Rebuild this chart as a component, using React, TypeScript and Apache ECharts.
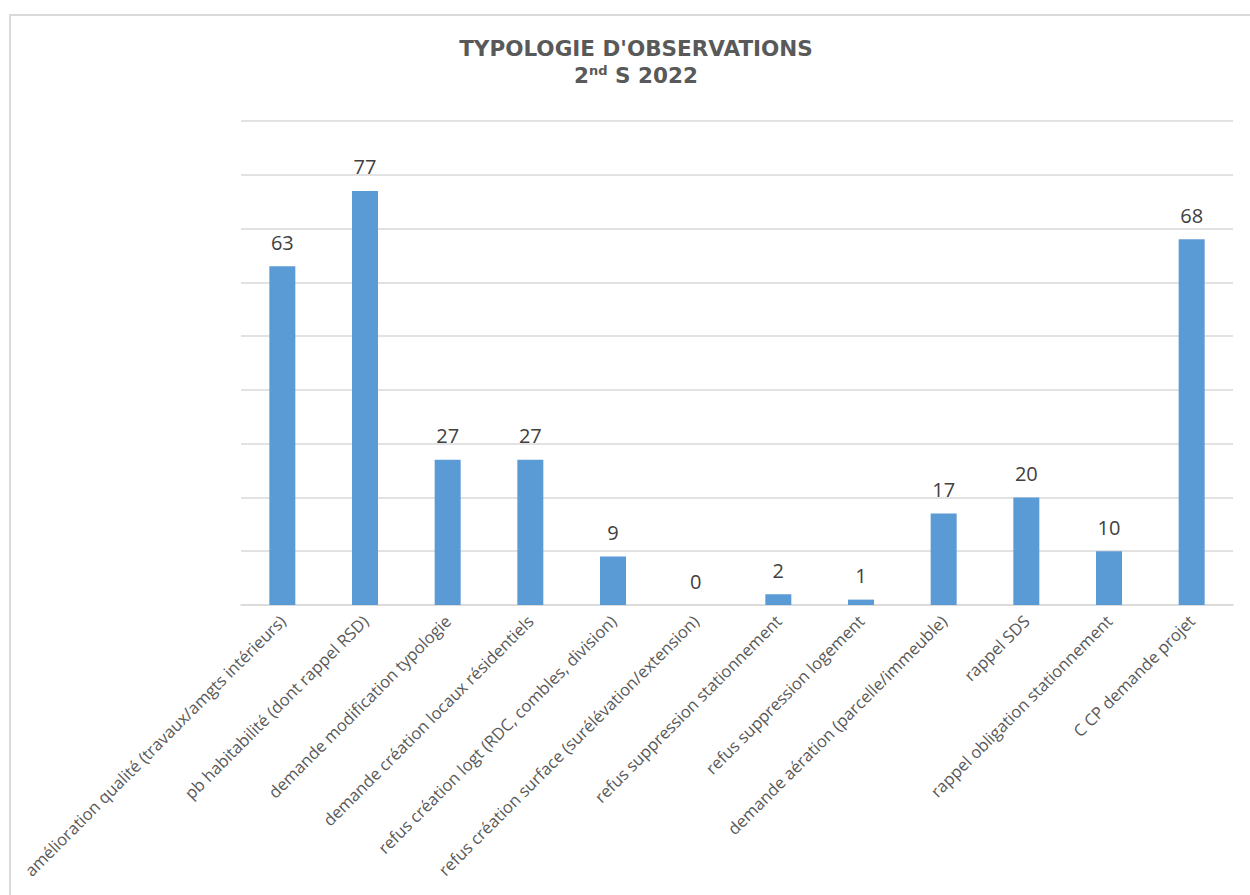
import React, { useEffect, useRef } from "react";
import * as echarts from "echarts";

const categories: string[] = [
  "amélioration qualité (travaux/amgts intérieurs)",
  "pb habitabilité (dont rappel RSD)",
  "demande modification typologie",
  "demande création locaux résidentiels",
  "refus création logt (RDC, combles, division)",
  "refus création surface (surélévation/extension)",
  "refus suppression stationnement",
  "refus suppression logement",
  "demande aération (parcelle/immeuble)",
  "rappel SDS",
  "rappel obligation stationnement",
  "C CP demande projet",
];

const counts: number[] = [63, 77, 27, 27, 9, 0, 2, 1, 17, 20, 10, 68];

const titleLine1 = "TYPOLOGIE D'OBSERVATIONS";
const titleOrdinal = "2";
const titleSuffix = "nd";
const titleRest = " S 2022";

export default function App() {
  const ref = useRef<HTMLDivElement>(null);

  useEffect(() => {
    if (!ref.current) return;
    const chart = echarts.init(ref.current, null, { renderer: "svg" });
    const labelFont = "Open Sans, 'Noto Sans', sans-serif";
    const titleFont = "'DejaVu Sans', sans-serif";
    chart.setOption({
      animation: false,
      backgroundColor: "#ffffff",
      graphic: [
        {
          type: "rect",
          shape: { x: 10, y: 15, width: 1280, height: 920 },
          style: { fill: "none", stroke: "#d9d9d9", lineWidth: 2 },
          silent: true,
        },
        {
          type: "text",
          x: 636,
          y: 48,
          style: {
            text: titleLine1,
            fill: "#595959",
            font: `bold 21.5px ${titleFont}`,
            align: "center",
            verticalAlign: "middle",
          },
        },
        {
          type: "text",
          x: 636,
          y: 75,
          style: {
            text: `{n|${titleOrdinal}}{s|${titleSuffix}}{n|${titleRest}}`,
            align: "center",
            verticalAlign: "middle",
            rich: {
              n: {
                fill: "#595959",
                font: `bold 21.5px ${titleFont}`,
              },
              s: {
                fill: "#595959",
                font: `bold 13px ${titleFont}`,
                verticalAlign: "top",
                padding: [0, 0, 9, 0],
              },
            },
          },
        },
      ],
      grid: { left: 241, right: 17, top: 121, bottom: 290, containLabel: false },
      xAxis: {
        type: "category",
        data: categories,
        axisLine: { show: true, lineStyle: { color: "#d9d9d9", width: 1.5 } },
        axisTick: { show: false },
        axisLabel: {
          interval: 0,
          rotate: 45,
          margin: 13,
          color: "#595959",
          fontSize: 16.6,
          fontFamily: labelFont,
        },
      },
      yAxis: {
        type: "value",
        min: 0,
        max: 90,
        interval: 10,
        axisLabel: { show: false },
        axisLine: { show: false },
        axisTick: { show: false },
        splitLine: { lineStyle: { color: "#d9d9d9", width: 1.5 } },
      },
      series: [
        {
          type: "bar",
          data: counts,
          barWidth: 26,
          itemStyle: { color: "#5b9bd5" },
          label: {
            show: true,
            position: "top",
            distance: 14,
            color: "#404040",
            fontSize: 20,
            fontFamily: labelFont,
          },
        },
      ],
    });
    return () => chart.dispose();
  }, []);

  return (
    <div
      ref={ref}
      style={{ position: "fixed", left: 0, top: 0, width: 1250, height: 895 }}
    />
  );
}
